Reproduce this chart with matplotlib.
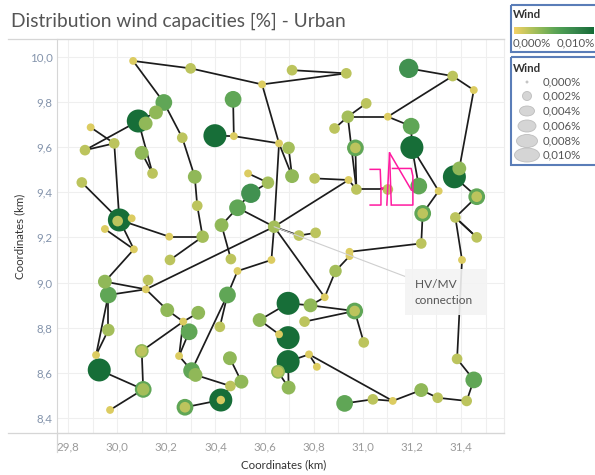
import numpy as np
import matplotlib
matplotlib.use('Agg')
import matplotlib.pyplot as plt
from matplotlib.colors import LinearSegmentedColormap
from matplotlib.collections import LineCollection
from matplotlib.lines import Line2D
from matplotlib.patches import Rectangle, Ellipse
from matplotlib.ticker import FuncFormatter, MultipleLocator

plt.rcParams['font.family'] = ['Lato', 'DejaVu Sans']

# ----------------------------
# Nodes of the urban grid (coordinates in km, wind capacity in %)
# ----------------------------
node_id = ['n1', 'n2', 'n3', 'n4', 'n5', 'n6', 'n7', 'n8', 'n9', 'n10',
           'n11', 'n12', 'n13', 'n14', 'n14c', 'n15', 'n16', 'n17', 'n18', 'n19',
           'n20', 'n21', 'n22', 'n23', 'n24', 'n25', 'n26', 'n27', 'n28', 'hv',
           'n30', 'nb', 'nc', 'ne', 'nf', 'nh', 'ni', 'nj', 'nj2', 'nk',
           'nkc', 'nl', 'nm', 'nn', 'no', 'np', 'nq', 'nr', 'ns', 'nt',
           'nu', 'nv', 'nw', 'nwc', 'nx', 'ny', 'nz', 'nzc', 'naa', 'nbb',
           'nee', 'nff', 'D', 'E', 'H', 'L', 'M', 'N', 'O', 'P',
           'Q', 'R', 'S', 'T', 'U', 'V', 'W', 'X', 'Y', 'Z',
           'AA', 'AB', 'AC', 'ACc', 'AD', 'AE', 'AF', 'AG', 'AH', 'AI',
           'AJ', 'AJc', 'AK', 'AL', 'ALc', 'AM', 'AMc', 'p1', 'p2', 'p3',
           'p4', 'p5', 'p6', 'p7', 'p7c', 'p8', 'p9', 'p10', 'p11', 'p12',
           'p13', 'p14', 'p15', 'p15c', 'p16', 'p17', 'p18', 'p19', 'p20', 'p21',
           'p22', 'p23', 'p24', 'p25', 'p26']
node_x = [30.065, 30.299, 30.590, 30.190, 30.158, 30.086, 30.116, 29.892, 29.869, 29.988,
          30.100, 30.144, 29.856, 30.009, 30.002, 30.059, 29.950, 30.265, 30.316, 30.326,
          30.348, 30.472, 30.475, 30.398, 30.533, 30.614, 30.544, 30.490, 30.425, 30.639,
          30.659, 30.712, 30.933, 30.698, 30.712, 30.804, 30.942, 30.974, 31.102, 30.970,
          30.970, 30.885, 30.939, 31.014, 31.102, 31.197, 31.200, 31.187, 31.366, 31.452,
          31.373, 31.393, 31.464, 31.464, 31.228, 31.309, 31.244, 31.244, 31.377, 31.464,
          30.740, 30.808, 30.068, 30.212, 30.215, 30.463, 30.628, 30.490, 29.950, 30.126,
          30.117, 29.964, 30.449, 30.204, 30.330, 30.269, 30.293, 30.418, 29.964, 30.580,
          29.914, 29.927, 30.100, 30.100, 30.252, 30.303, 30.319, 30.459, 30.506, 30.461,
          30.106, 30.106, 29.971, 30.276, 30.276, 30.422, 30.422, 30.946, 30.946, 30.889,
          30.845, 30.696, 30.787, 30.967, 30.967, 30.763, 31.004, 30.659, 30.696, 30.696,
          30.781, 30.813, 30.655, 30.655, 30.698, 30.926, 31.041, 31.122, 31.238, 31.305,
          31.423, 31.452, 31.384, 31.404, 31.238]
node_y = [9.981, 9.948, 9.877, 9.797, 9.753, 9.715, 9.704, 9.687, 9.586, 9.616,
          9.574, 9.483, 9.443, 9.277, 9.272, 9.284, 9.237, 9.641, 9.468, 9.340,
          9.203, 9.811, 9.648, 9.650, 9.483, 9.442, 9.395, 9.331, 9.254, 9.247,
          9.616, 9.940, 9.926, 9.596, 9.471, 9.461, 9.454, 9.412, 9.412, 9.596,
          9.596, 9.682, 9.734, 9.793, 9.734, 9.692, 9.598, 9.948, 9.914, 9.852,
          9.468, 9.505, 9.380, 9.380, 9.427, 9.405, 9.306, 9.306, 9.288, 9.200,
          9.208, 9.220, 9.147, 9.203, 9.100, 9.104, 9.100, 9.051, 9.004, 9.011,
          8.970, 8.945, 8.945, 8.878, 8.866, 8.827, 8.782, 8.804, 8.790, 8.834,
          8.679, 8.613, 8.697, 8.697, 8.675, 8.610, 8.591, 8.665, 8.561, 8.542,
          8.527, 8.527, 8.436, 8.448, 8.448, 8.480, 8.480, 9.136, 9.117, 9.051,
          8.935, 8.908, 8.899, 8.874, 8.874, 8.827, 8.735, 8.771, 8.756, 8.650,
          8.682, 8.627, 8.605, 8.605, 8.535, 8.465, 8.483, 8.476, 8.524, 8.490,
          8.476, 8.569, 8.662, 9.100, 9.173]
wind = [0.0008, 0.0018, 0.0008, 0.0050, 0.0033, 0.0098, 0.0033, 0.0008, 0.0018, 0.0018,
        0.0033, 0.0018, 0.0018, 0.0098, 0.0018, 0.0008, 0.0008, 0.0018, 0.0033, 0.0018,
        0.0026, 0.0050, 0.0008, 0.0098, 0.0008, 0.0026, 0.0068, 0.0050, 0.0033, 0.0026,
        0.0008, 0.0018, 0.0018, 0.0026, 0.0033, 0.0018, 0.0008, 0.0018, 0.0018, 0.0050,
        0.0018, 0.0018, 0.0026, 0.0018, 0.0008, 0.0050, 0.0098, 0.0068, 0.0018, 0.0008,
        0.0098, 0.0033, 0.0050, 0.0018, 0.0050, 0.0008, 0.0050, 0.0018, 0.0018, 0.0018,
        0.0018, 0.0018, 0.0008, 0.0008, 0.0018, 0.0018, 0.0008, 0.0008, 0.0033, 0.0018,
        0.0008, 0.0050, 0.0050, 0.0033, 0.0033, 0.0008, 0.0050, 0.0018, 0.0026, 0.0033,
        0.0008, 0.0098, 0.0033, 0.0018, 0.0008, 0.0050, 0.0033, 0.0033, 0.0033, 0.0018,
        0.0050, 0.0026, 0.0008, 0.0050, 0.0018, 0.0098, 0.0010, 0.0008, 0.0008, 0.0026,
        0.0008, 0.0098, 0.0033, 0.0050, 0.0018, 0.0018, 0.0018, 0.0008, 0.0098, 0.0098,
        0.0008, 0.0008, 0.0033, 0.0018, 0.0033, 0.0050, 0.0018, 0.0008, 0.0033, 0.0018,
        0.0018, 0.0050, 0.0018, 0.0008, 0.0018]

# ----------------------------
# Cable connections between nodes
# ----------------------------
edge_a = ['n1', 'n2', 'n3', 'nb', 'n1', 'n4', 'n17', 'n18', 'n19', 'n4',
          'n5', 'n6', 'n8', 'n9', 'n10', 'n6', 'n11', 'n13', 'n16', 'n14',
          'n14', 'E', 'n15', 'n20', 'n21', 'n22', 'n23', 'n3', 'n24', 'n25',
          'n26', 'n27', 'n27', 'n30', 'n30', 'ne', 'hv', 'nh', 'nm', 'nk',
          'ni', 'nj', 'nm', 'nm', 'nm', 'no', 'no', 'nr', 'ns', 'nt',
          'np', 'nq', 'nx', 'nu', 'nw', 'naa', 'nz', 'nz', 'n28', 'hv',
          'M', 'N', 'S', 'S', 'hv', 'nee', 'hv', 'D', 'O', 'R',
          'P', 'Q', 'T', 'V', 'V', 'V', 'V', 'W', 'AC', 'AJ',
          'AJ', 'R', 'Y', 'R', 'AE', 'AF', 'AI', 'AG', 'AI', 'AM',
          'AD', 'Z', 'Z', 'hv', 'p1', 'p2', 'p3', 'p4', 'p5', 'p6',
          'p8', 'p7', 'p10', 'p12', 'p13', 'p12', 'p15', 'p12', 'p14', 'p17',
          'p18', 'p19', 'p20', 'p21', 'p22', 'p23', 'p24', 'p25', 'nbb']
edge_b = ['n2', 'n3', 'nc', 'nc', 'n4', 'n17', 'n18', 'n19', 'n20', 'n5',
          'n6', 'n9', 'n10', 'n10', 'n14', 'n12', 'n12', 'n14', 'D', 'D',
          'E', 'n20', 'n14', 'H', 'n22', 'n30', 'n22', 'n30', 'n25', 'n26',
          'n27', 'n28', 'hv', 'hv', 'nf', 'nf', 'ni', 'ni', 'nj', 'nj',
          'nj', 'nj2', 'nn', 'nl', 'no', 'np', 'ns', 'ns', 'nt', 'nv',
          'nq', 'ny', 'nq', 'nw', 'naa', 'nbb', 'ny', 'p26', 'L', 'M',
          'N', 'S', 'AE', 'X', 'nee', 'nff', 'Q', 'O', 'Q', 'Q',
          'Q', 'T', 'V', 'U', 'W', 'AC', 'AD', 'AD', 'AJ', 'AK',
          'AB', 'Y', 'AA', 'AA', 'AF', 'AI', 'AH', 'AH', 'AM', 'AL',
          'AE', 'p5', 'p10', 'p4', 'p26', 'p3', 'p4', 'p6', 'p6', 'p7',
          'p7', 'p9', 'p11', 'p13', 'p19', 'p15', 'p16', 'p16', 'p13', 'p18',
          'p19', 'p20', 'p21', 'p22', 'p23', 'p24', 'p25', 'naa', 'naa']

hv_node = 'hv'
x_ticks = [29.8, 30.0, 30.2, 30.4, 30.6, 30.8, 31.0, 31.2, 31.4]
legend_vals = [0.000, 0.002, 0.004, 0.006, 0.008, 0.010]

# Tableau "Green-Gold"
green_gold = ['#f4d166', '#d5ca60', '#b6c35c', '#98bb59', '#7cb257', '#60a656',
              '#4b9c53', '#3f8f4f', '#33834a', '#257740', '#146c36']
cmap = LinearSegmentedColormap.from_list('green_gold', green_gold)

W, H = 595, 475
fig = plt.figure(figsize=(W / 100, H / 100), dpi=100)
ax = fig.add_axes([57 / W, 1 - 433 / H, (504 - 57) / W, (433 - 39) / H])

pos = {k: (x, y) for k, x, y in zip(node_id, node_x, node_y)}
segs = [[pos[a], pos[b]] for a, b in zip(edge_a, edge_b)]
ax.add_collection(LineCollection(segs, colors='#1c1c1c', linewidths=1.25, zorder=2))

xs = np.array(node_x)
ys = np.array(node_y)
vs = np.array(wind)
order = np.argsort(-vs, kind='stable')
sizes = 0.5184 * (20 + 52000 * vs)
ax.scatter(xs[order], ys[order], s=sizes[order], c=vs[order], cmap=cmap,
           vmin=0, vmax=0.010, linewidths=0, zorder=3)

# HV/MV annotation
ax.annotate('HV/MV       \nconnection', xy=pos[hv_node], xytext=(31.212, 8.958),
            textcoords='data', ha='left', va='center', fontsize=8.6,
            color='#555555', linespacing=1.55, zorder=5,
            bbox=dict(boxstyle='square,pad=0.8', fc='#f3f3f3', ec='none', alpha=0.9),
            arrowprops=dict(arrowstyle='-', color='#cfcfcf', lw=0.8, shrinkA=0, shrinkB=0))

# hand-drawn pink marking on the screenshot
pink = '#ff1aa0'
scribble = [
    [(31.030, 9.501), (31.071, 9.501), (31.074, 9.420), (31.083, 9.418), (31.074, 9.410),
     (31.074, 9.343), (31.030, 9.343)],
    [(31.098, 9.343), (31.109, 9.574), (31.198, 9.409)],
    [(31.109, 9.574), (31.116, 9.343)],
    [(31.121, 9.505), (31.197, 9.505), (31.204, 9.471), (31.204, 9.343), (31.121, 9.343)],
]
for stroke in scribble:
    sx, sy = zip(*stroke)
    ax.plot(sx, sy, color=pink, lw=1.1, zorder=4)

ax.set_xlim(29.755, 31.575)
ax.set_ylim(8.334, 10.078)
ax.xaxis.set_minor_locator(MultipleLocator(0.1))
ax.yaxis.set_major_locator(MultipleLocator(0.2))
ax.set_xticks(x_ticks)
fmt = FuncFormatter(lambda v, p: f'{v:.1f}'.replace('.', ','))
ax.xaxis.set_major_formatter(fmt)
ax.yaxis.set_major_formatter(fmt)
ax.grid(True, which='both', color='#efefef', lw=0.8, zorder=0)
ax.set_axisbelow(True)
ax.tick_params(which='both', length=0, labelsize=8.3)
ax.tick_params(axis='x', pad=6, labelcolor='#9a9a9a')
ax.tick_params(axis='y', pad=3, labelcolor='#8494ac')
for side in ['left', 'bottom', 'top']:
    ax.spines[side].set_color('#d6d6d6')
ax.spines['right'].set_color('#ececec')

# frame lines of the view
fig.add_artist(Line2D([8 / W, 504 / W], [1 - 39 / H, 1 - 39 / H], color='#d6d6d6', lw=0.9))
fig.add_artist(Line2D([8 / W, 504 / W], [1 - 433 / H, 1 - 433 / H], color='#d6d6d6', lw=0.9))
fig.add_artist(Line2D([57 / W, 57 / W], [1 - 433 / H, 1 - 452 / H], color='#d6d6d6', lw=0.9))

fig.text(11 / W, 1 - 21 / H, 'Distribution wind capacities [%] - Urban', fontsize=13.8,
         color='#555555', ha='left', va='center')
fig.text(284 / W, 1 - 465 / H, 'Coordinates (km)', fontsize=8.3, color='#333333',
         ha='center', va='center')
fig.text(20 / W, 1 - 236 / H, 'Coordinates (km)', fontsize=8.3, color='#333333',
         ha='center', va='center', rotation=90)

# ----------------------------
# Legends (colour and size)
# ----------------------------
lg = fig.add_axes([505 / W, 1 - 172 / H, 90 / W, 172 / H])
lg.axis('off')
box_col = '#5a7db8'
lg.add_patch(Rectangle((511, 5), 95, 47, fill=False, ec=box_col, lw=1.5))
lg.add_patch(Rectangle((511, 57), 95, 108, fill=False, ec=box_col, lw=1.5))
lg.text(513, 15, 'Wind', fontsize=8.3, color='#333333', weight='bold', va='center')
lg.imshow(np.linspace(0, 1, 200)[None, :], cmap=cmap, aspect='auto',
          extent=(514, 594, 34, 27))
lg.set_xlim(505, 595)
lg.set_ylim(172, 0)
lg.text(513, 43, '0,000%', fontsize=8.2, color='#555555', va='center', ha='left')
lg.text(595, 43, '0,010%', fontsize=8.2, color='#555555', va='center', ha='right')
lg.text(513, 68, 'Wind', fontsize=8.3, color='#333333', weight='bold', va='center')
row_y = [82, 96, 111, 126, 141, 155]
sym_w = [2, 9, 15, 18, 21, 25]
sym_h = [2, 9, 10, 12, 13, 14]
for v, yy, w, h in zip(legend_vals, row_y, sym_w, sym_h):
    lg.add_patch(Ellipse((527, yy), w, h, fc='#d5d5d5', ec='#bdbdbd', lw=0.6))
    lg.text(543, yy, f'{v:.3f}%'.replace('.', ','), fontsize=8.2, color='#555555',
            va='center', ha='left')

fig.savefig('out.png', dpi=100)
